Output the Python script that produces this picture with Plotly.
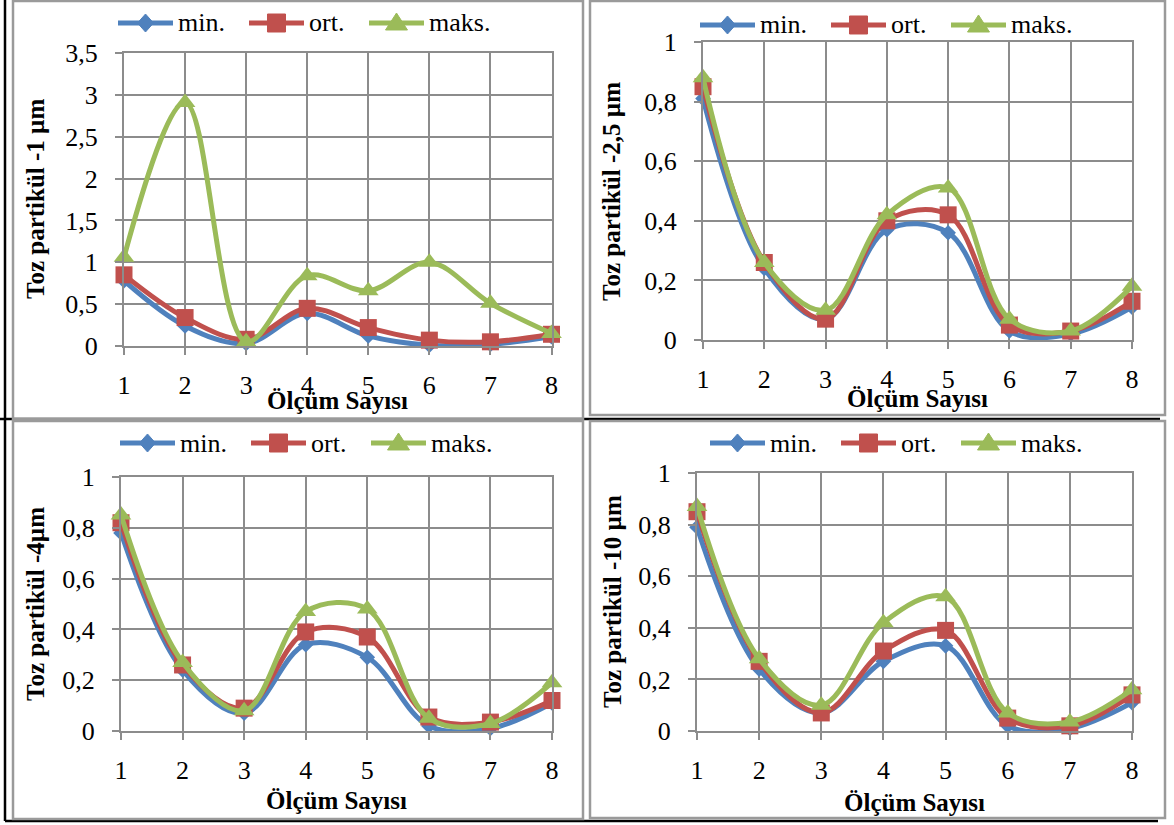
import plotly.graph_objects as go

# Measurement numbers on the x axis
olcum = [1, 2, 3, 4, 5, 6, 7, 8]

# Toz partikül -1 µm
p1_min = [0.78, 0.24, 0.03, 0.39, 0.12, 0.01, 0.02, 0.11]
p1_ort = [0.85, 0.34, 0.08, 0.45, 0.22, 0.07, 0.05, 0.14]
p1_maks = [1.06, 2.91, 0.05, 0.84, 0.66, 1.00, 0.51, 0.15]

# Toz partikül -2,5 µm
p2_min = [0.81, 0.24, 0.07, 0.37, 0.36, 0.03, 0.02, 0.11]
p2_ort = [0.85, 0.26, 0.07, 0.40, 0.42, 0.05, 0.03, 0.13]
p2_maks = [0.88, 0.26, 0.10, 0.42, 0.51, 0.07, 0.03, 0.18]

# Toz partikül -4 µm
p3_min = [0.78, 0.24, 0.07, 0.34, 0.29, 0.02, 0.01, 0.11]
p3_ort = [0.82, 0.26, 0.09, 0.39, 0.37, 0.055, 0.035, 0.12]
p3_maks = [0.85, 0.27, 0.08, 0.47, 0.48, 0.05, 0.03, 0.19]

# Toz partikül -10 µm
p4_min = [0.79, 0.24, 0.07, 0.27, 0.33, 0.02, 0.01, 0.11]
p4_ort = [0.85, 0.27, 0.07, 0.31, 0.39, 0.05, 0.02, 0.14]
p4_maks = [0.87, 0.28, 0.10, 0.42, 0.52, 0.07, 0.035, 0.16]

y_titles = ["Toz partikül -1 µm", "Toz partikül -2,5 µm",
            "Toz partikül -4µm", "Toz partikül -10 µm"]
x_title = "Ölçüm Sayısı"
series_names = ["min.", "ort.", "maks."]

W, H = 1174, 825


def fx(x):
    return x / W


def fy(y):
    return 1 - y / H


BLUE, RED, GREEN = "#4F81BD", "#C0504D", "#9BBB59"
GRID = "#8c8c8c"
FRAME = "#9a9a9a"
FONT = "Liberation Serif, Times New Roman, serif"

# pixel geometry of each panel: plot area (left, right, top, bottom),
# y range, y step, legend origin, title positions, outer frame
panels = [
    dict(data=(p1_min, p1_ort, p1_maks), area=(124, 551.5, 53, 346), ymax=3.5, dtick=0.5,
         leg=(118, 23), xt=(337.5, 400), yt=(35, 199), frame=(13, 583, 1, 419)),
    dict(data=(p2_min, p2_ort, p2_maks), area=(703, 1132, 42, 340), ymax=1, dtick=0.2,
         leg=(700, 25), xt=(917.5, 398), yt=(612, 192), frame=(590, 1165, 1, 415)),
    dict(data=(p3_min, p3_ort, p3_maks), area=(121, 552, 477, 731), ymax=1, dtick=0.2,
         leg=(120, 443), xt=(336.5, 800), yt=(35, 604), frame=(13, 583, 421, 819)),
    dict(data=(p4_min, p4_ort, p4_maks), area=(697, 1132, 473, 731), ymax=1, dtick=0.2,
         leg=(710, 443), xt=(914.5, 802), yt=(612, 602), frame=(590, 1165, 421, 818)),
]

styles = [
    dict(color=BLUE, symbol="diamond", size=12),
    dict(color=RED, symbol="square", size=17),
    dict(color=GREEN, symbol="triangle-up", size=18),
]

# legend key layout (px): item offsets, key line length, text offset
LEG_OFFSETS = [0, 131, 251]
LEG_LINE = 55
LEG_TEXT = 58


def key_marker(symbol, cx, cy, color):
    """Small marker glyph drawn as a paper-referenced path."""
    if symbol == "diamond":
        pts = [(cx, cy - 9), (cx + 8, cy), (cx, cy + 9), (cx - 8, cy)]
    elif symbol == "square":
        pts = [(cx - 9, cy - 9), (cx + 9, cy - 9), (cx + 9, cy + 9), (cx - 9, cy + 9)]
    else:
        pts = [(cx, cy - 10), (cx + 11, cy + 7), (cx - 11, cy + 7)]
    path = "M " + " L ".join(f"{fx(px):.5f},{fy(py):.5f}" for px, py in pts) + " Z"
    return dict(type="path", xref="paper", yref="paper", path=path,
                fillcolor=color, line=dict(color=color, width=1))


fig = go.Figure()
layout = dict(
    template="none",
    width=W, height=H, margin=dict(l=0, r=0, t=0, b=0, autoexpand=False),
    paper_bgcolor="white", plot_bgcolor="white",
    separators=",.", showlegend=False,
    font=dict(family=FONT, size=26, color="black"),
)
annotations = []
shapes = []

# table lines behind the chart frames
shapes.append(dict(type="line", xref="paper", yref="paper", x0=fx(5), x1=fx(5), y0=fy(0), y1=fy(821),
                   line=dict(color="black", width=2.5)))
shapes.append(dict(type="line", xref="paper", yref="paper", x0=fx(5), x1=fx(1158), y0=fy(821), y1=fy(821),
                   line=dict(color="black", width=2.5)))
shapes.append(dict(type="line", xref="paper", yref="paper", x0=fx(0), x1=fx(1160), y0=fy(419), y1=fy(419),
                   line=dict(color="black", width=2.5)))
shapes.append(dict(type="line", xref="paper", yref="paper", x0=fx(590), x1=fx(1158), y0=fy(0.5), y1=fy(0.5),
                   line=dict(color="black", width=2)))

for i, p in enumerate(panels, start=1):
    sfx = "" if i == 1 else str(i)
    xa, ya = "x" + sfx, "y" + sfx
    l, r, t, b = p["area"]
    for name, vals, st in zip(series_names, p["data"], styles):
        fig.add_trace(go.Scatter(
            x=olcum, y=vals, name=name, mode="lines+markers",
            line=dict(color=st["color"], width=5, shape="spline", smoothing=1),
            marker=dict(color=st["color"], symbol=st["symbol"], size=st["size"]),
            cliponaxis=False, xaxis=xa, yaxis=ya,
        ))
    layout["xaxis" + sfx] = dict(
        domain=[fx(l), fx(r)], range=[1, 8], anchor=ya, tickvals=olcum,
        showgrid=True, gridcolor=GRID, gridwidth=2, zeroline=False,
        showline=True, mirror=True, linecolor=GRID, linewidth=2,
        ticks="outside", ticklen=7, tickwidth=2, tickcolor=GRID, automargin=False,
        tickfont=dict(family=FONT, size=26, color="black"), ticklabelstandoff=8,
    )
    layout["yaxis" + sfx] = dict(
        domain=[fy(b), fy(t)], range=[0, p["ymax"]], anchor=xa, dtick=p["dtick"], tick0=0,
        showgrid=True, gridcolor=GRID, gridwidth=2, zeroline=False,
        showline=True, mirror=True, linecolor=GRID, linewidth=2,
        ticks="outside", ticklen=7, tickwidth=2, tickcolor=GRID, automargin=False,
        tickfont=dict(family=FONT, size=26, color="black"), ticklabelstandoff=12,
    )

    # series key above the plot
    lx, ly = p["leg"]
    for off, name, st in zip(LEG_OFFSETS, series_names, styles):
        x0 = lx + off
        shapes.append(dict(type="line", xref="paper", yref="paper",
                           x0=fx(x0), x1=fx(x0 + LEG_LINE), y0=fy(ly), y1=fy(ly),
                           line=dict(color=st["color"], width=5)))
        shapes.append(key_marker(st["symbol"], x0 + LEG_LINE / 2, ly, st["color"]))
        annotations.append(dict(text=name, xref="paper", yref="paper",
                                x=fx(x0 + LEG_TEXT), y=fy(ly), xanchor="left", yanchor="middle",
                                showarrow=False, font=dict(family=FONT, size=26, color="black")))

    xtx, xty = p["xt"]
    annotations.append(dict(text="<b>" + x_title + "</b>", xref="paper", yref="paper",
                            x=fx(xtx), y=fy(xty), xanchor="center", yanchor="middle",
                            showarrow=False, font=dict(family=FONT, size=25, color="black")))
    ytx, yty = p["yt"]
    annotations.append(dict(text="<b>" + y_titles[i - 1] + "</b>", xref="paper", yref="paper",
                            x=fx(ytx), y=fy(yty), xanchor="center", yanchor="middle",
                            textangle=-90, showarrow=False,
                            font=dict(family=FONT, size=25, color="black")))
    fl, fr, ft, fb = p["frame"]
    shapes.append(dict(type="rect", xref="paper", yref="paper",
                       x0=fx(fl), x1=fx(fr), y0=fy(fb), y1=fy(ft),
                       line=dict(color=FRAME, width=2.5), fillcolor="rgba(0,0,0,0)"))

layout["annotations"] = annotations
layout["shapes"] = shapes
fig.update_layout(**layout)
fig.write_html("out.html")
